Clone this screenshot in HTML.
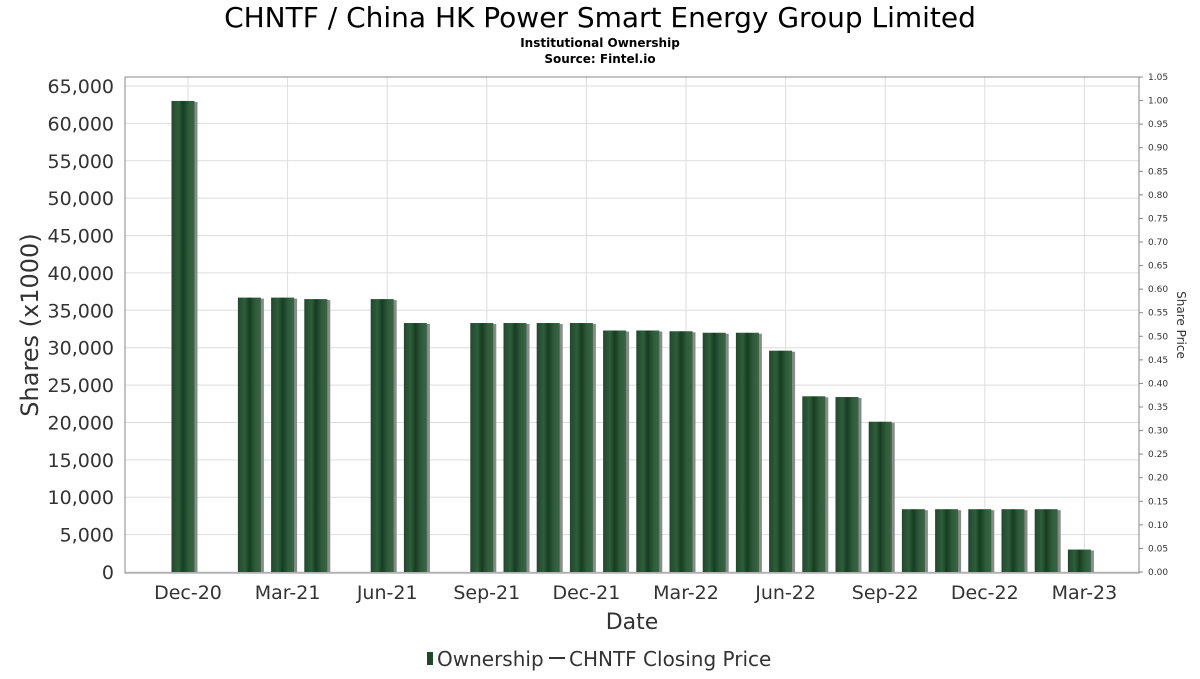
<!DOCTYPE html>
<html><head><meta charset="utf-8"><style>
body{margin:0;background:#fff;font-family:"DejaVu Sans","Liberation Sans",sans-serif;}
</style></head><body>
<svg id="c" width="1200" height="675" xmlns="http://www.w3.org/2000/svg">
<defs>
<linearGradient id="bg" x1="0" x2="1" y1="0" y2="0">
<stop offset="0" stop-color="#1e4a2a"/><stop offset="0.3" stop-color="#2f5e3c"/><stop offset="0.5" stop-color="#163d21"/><stop offset="0.75" stop-color="#2f5c3b"/><stop offset="1" stop-color="#3a6446"/>
</linearGradient>
</defs>
<text x="600" y="27" font-size="28" text-anchor="middle" fill="#000">CHNTF / China HK Power Smart Energy Group Limited</text>
<text x="600" y="47" font-size="12" font-weight="bold" text-anchor="middle">Institutional Ownership</text>
<text x="600" y="63" font-size="12" font-weight="bold" text-anchor="middle">Source: Fintel.io</text>
<g id="grid"></g>
<g id="bars"></g>
<rect x="125" y="77" width="1014" height="496" fill="none" stroke="#888" stroke-width="1"/>
<g id="axes"></g>
<text transform="translate(38,325) rotate(-90)" font-size="24" text-anchor="middle" fill="#333">Shares (x1000)</text>
<text transform="translate(1177,325) rotate(90)" font-size="12" text-anchor="middle" fill="#333">Share Price</text>
<text x="632" y="629" font-size="22" text-anchor="middle" fill="#333">Date</text>
<g>
<rect x="427" y="652" width="6" height="13" fill="#1e4a2a"/>
<text x="437" y="666" font-size="20" fill="#333">Ownership</text>
<line x1="549" y1="658" x2="565" y2="658" stroke="#333" stroke-width="2"/>
<text x="569" y="666" font-size="20" fill="#333">CHNTF Closing Price</text>
</g>
</svg>
<script>
const monthIdx=[0,2,3,4,6,7,9,10,11,12,13,14,15,16,17,18,19,20,21,22,23,24,25,26,27];
const shares=[63000,36700,36700,36500,36500,33300,33300,33300,33300,33300,32300,32300,32200,32000,32000,29600,23500,23400,20100,8400,8400,8400,8400,8400,3000];
const yTicks=[0,5000,10000,15000,20000,25000,30000,35000,40000,45000,50000,55000,60000,65000];
const y2Ticks=[0,0.05,0.1,0.15,0.2,0.25,0.3,0.35,0.4,0.45,0.5,0.55,0.6,0.65,0.7,0.75,0.8,0.85,0.9,0.95,1.0,1.05];
const xLabels=["Dec-20","Mar-21","Jun-21","Sep-21","Dec-21","Mar-22","Jun-22","Sep-22","Dec-22","Mar-23"];
const xLabelIdx=[0,3,6,9,12,15,18,21,24,27];
const NS="http://www.w3.org/2000/svg";
const y=v=>572-v*486/65000;
const y2=v=>572-v*(572-77)/1.05;
const x=i=>188+i*33.2;
function mk(t,a,p){const e=document.createElementNS(NS,t);for(const k in a)e.setAttribute(k,a[k]);p.appendChild(e);return e;}
const g=document.getElementById('grid'),b=document.getElementById('bars'),ax=document.getElementById('axes');
yTicks.forEach(v=>{
 const l=mk('line',{x1:125,x2:1139,y1:y(v),y2:y(v),stroke:'#ddd'},g);
 
 
 const t=mk('text',{x:114,y:y(v)+7,'font-size':19,'text-anchor':'end',fill:'#333'},ax);
 t.textContent=v.toLocaleString('en-US');
 
 
});
y2Ticks.forEach(v=>{
 mk('line',{x1:1139,x2:1143,y1:y2(v),y2:y2(v),stroke:'#888'},ax);
 const t=mk('text',{x:1148,y:y2(v)+3,'font-size':9,fill:'#333'},ax);
 t.textContent=v.toFixed(2);
 
 
});
xLabels.forEach((s,k)=>{
 const xx=x(xLabelIdx[k]);
 const l=mk('line',{x1:xx,x2:xx,y1:77,y2:573,stroke:'#ddd'},g);
 
 
 const t=mk('text',{x:xx,y:599,'font-size':19,'text-anchor':'middle',fill:'#333'},ax);
 t.textContent=s;
 
 
});
shares.forEach((v,k)=>{
 const cx=x(monthIdx[k])-4.5;
 mk('rect',{x:cx-9,y:y(v)+1,width:23,height:572-y(v)-1,fill:'#8a8a8a'},b);
 const r=mk('rect',{x:cx-12,y:y(v),width:23,height:572-y(v),fill:'url(#bg)'},b);
 
 
});
</script>
</body></html>
